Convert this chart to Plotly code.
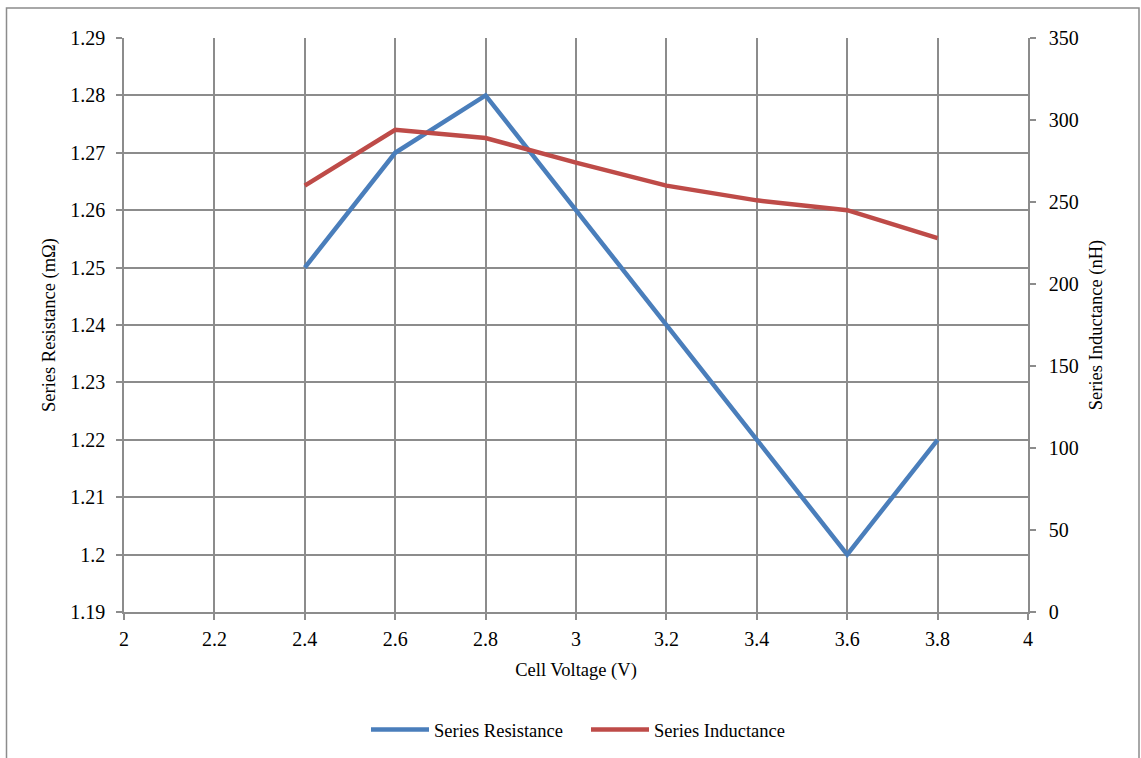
import plotly.graph_objects as go

# Cell voltage sweep and measured equivalent-circuit parameters
cell_voltage = [2.4, 2.6, 2.8, 3.0, 3.2, 3.4, 3.6, 3.8]
series_resistance = [1.25, 1.27, 1.28, 1.26, 1.24, 1.22, 1.20, 1.22]   # mΩ
series_inductance = [260, 294, 289, 274, 260, 251, 245, 228]           # nH

x_ticks = [2, 2.2, 2.4, 2.6, 2.8, 3, 3.2, 3.4, 3.6, 3.8, 4]
left_ticks = [1.19, 1.2, 1.21, 1.22, 1.23, 1.24, 1.25, 1.26, 1.27, 1.28, 1.29]
right_ticks = [0, 50, 100, 150, 200, 250, 300, 350]

FONT = "Liberation Serif, Times New Roman, serif"
GRID = "#8c8c8c"
TICK_SIZE = 20
TITLE_SIZE = 18.5

fig = go.Figure()
fig.add_trace(go.Scatter(
    x=cell_voltage, y=series_resistance, name="Series Resistance",
    mode="lines", line=dict(color="#4A7EBB", width=4.5), yaxis="y"))
fig.add_trace(go.Scatter(
    x=cell_voltage, y=series_inductance, name="Series Inductance",
    mode="lines", line=dict(color="#BE4B48", width=4.5), yaxis="y2"))

L, R, T, B = 124, 113, 38, 146
W, H = 1141, 758
pw, ph = W - L - R, H - T - B

axis_style = dict(showline=True, linecolor=GRID, linewidth=1.5,
                  ticks="outside", ticklen=6, tickcolor=GRID, tickwidth=1.5,
                  zeroline=False, automargin=False, tickfont=dict(size=TICK_SIZE))

fig.update_layout(
    width=W, height=H,
    margin=dict(l=L, r=R, t=T, b=B, autoexpand=False),
    paper_bgcolor="white", plot_bgcolor="white",
    font=dict(family=FONT, size=TICK_SIZE, color="black"),
    showlegend=True,
    legend=dict(orientation="h", x=0.5 + 10 / pw, xanchor="center",
                y=(0 - (730 - (H - B))) / ph, yanchor="middle",
                font=dict(size=TITLE_SIZE), itemwidth=58,
                entrywidthmode="pixels", entrywidth=147,
                traceorder="normal"),
    xaxis=dict(range=[2, 4], tickvals=x_ticks, ticktext=[f"{v:g}" for v in x_ticks],
               showgrid=True, gridcolor=GRID, gridwidth=1.5,
               ticklabelstandoff=2,
               title=dict(text="Cell Voltage (V)", font=dict(size=TITLE_SIZE), standoff=14),
               **axis_style),
    yaxis=dict(range=[1.19, 1.29], tickvals=left_ticks, ticktext=[f"{v:g}" for v in left_ticks],
               showgrid=True, gridcolor=GRID, gridwidth=1.5,
               ticklabelstandoff=7,
               title=dict(text="Series Resistance (mΩ)", font=dict(size=TITLE_SIZE), standoff=10),
               **axis_style),
    yaxis2=dict(range=[0, 350], tickvals=right_ticks, overlaying="y", side="right",
                showgrid=False, ticklabelstandoff=9,
                title=dict(text="Series Inductance (nH)", font=dict(size=TITLE_SIZE), standoff=11),
                **axis_style),
    shapes=[dict(type="rect", xref="paper", yref="paper",
                 x0=(6.5 - L) / pw, x1=(1139 - L) / pw,
                 y0=-0.4, y1=(H - B - 8) / ph,
                 line=dict(color="#8c8c8c", width=1.5), fillcolor="rgba(0,0,0,0)",
                 layer="below")],
)

fig.write_html("out.html")
